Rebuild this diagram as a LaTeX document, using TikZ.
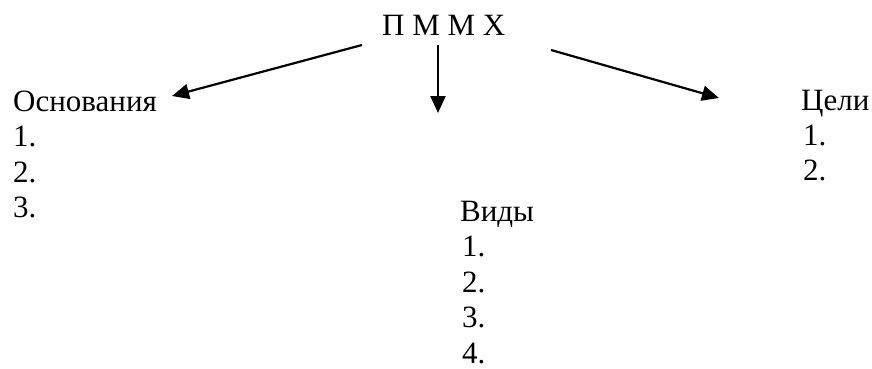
\documentclass[tikz,border=0pt]{standalone}
\usepackage{fontspec}
\setmainfont{Liberation Serif}
\usetikzlibrary{arrows.meta}
\begin{document}
\begin{tikzpicture}[x=1pt,y=-1pt,
  txt/.style={anchor=base west,inner sep=0pt,font=\fontsize{31}{37}\selectfont},
  arr/.style={line width=2.2pt,-{Triangle[length=17pt,width=15pt]}}]
\useasboundingbox (0,0) rectangle (872,369);
\node[txt] (title) at (382,36) {П М М Х};
\node[txt] (osn) at (13,111) {Основания};
\node[txt] (o1) at (13,146) {1.};
\node[txt] (o2) at (13,182) {2.};
\node[txt] (o3) at (13,217) {3.};
\node[txt] (cel) at (801,110) {Цели};
\node[txt] (c1) at (803,145) {1.};
\node[txt] (c2) at (803,180) {2.};
\node[txt] (vid) at (460,221) {Виды};
\node[txt] (v1) at (462,256) {1.};
\node[txt] (v2) at (462,292) {2.};
\node[txt] (v3) at (462,327) {3.};
\node[txt] (v4) at (462,363) {4.};
\coordinate (aL1) at (362,45);
\coordinate (aL2) at (172,96);
\coordinate (aM1) at (438,45);
\coordinate (aM2) at (438,113);
\coordinate (aR1) at (551,50);
\coordinate (aR2) at (719,98);
\draw[arr] (aL1) -- (aL2);
\draw[arr] (aM1) -- (aM2);
\draw[arr] (aR1) -- (aR2);
\end{tikzpicture}
\end{document}
